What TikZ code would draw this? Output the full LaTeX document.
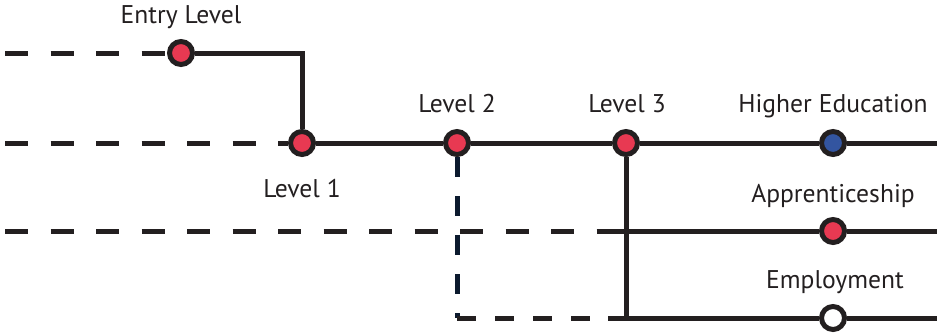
\documentclass[tikz,border=0pt]{standalone}
\usepackage{fontspec}
\setmainfont{PT Sans}
\usepackage{tikz}
\usepackage{xcolor}
\usetikzlibrary{positioning}
\definecolor{lineblack}{RGB}{35, 31, 32}
\definecolor{stopred}{RGB}{232, 57, 82}
\definecolor{stopblue}{RGB}{51, 85, 160}
\definecolor{linenavy}{RGB}{12, 26, 46}
\tikzset{
    routeline/.style={line width=2.5pt, draw=lineblack},
    routedash/.style={routeline, dash pattern=on 11.5pt off 11.25pt},
    crossdash/.style={line width=2.5pt, draw=linenavy, dash pattern=on 10pt off 9.5pt},
    stopnode/.style={circle, draw=lineblack, line width=2.5pt, minimum size=11.5pt, inner sep=0pt},
    redstop/.style={stopnode, fill=stopred},
    bluestop/.style={stopnode, fill=stopblue},
    whitestop/.style={stopnode, fill=white},
    stoplabel/.style={anchor=base, text=lineblack, font=\fontsize{12.8}{15}\selectfont}
}

\begin{document}
\begin{tikzpicture}[x=0.5pt, y=-0.5pt]
    \useasboundingbox (0,0) rectangle (937,332);

    % stops
    \node[redstop]   (entry)  at (181,53)  {};
    \node[redstop]   (lone)   at (302,143) {};
    \node[redstop]   (ltwo)   at (457,143) {};
    \node[redstop]   (lthree) at (626,143) {};
    \node[bluestop]  (higher) at (833,143) {};
    \node[redstop]   (appr)   at (833,231) {};
    \node[whitestop] (employ) at (833,318) {};

    % free ends
    \coordinate (entryleft) at (5,53);
    \coordinate (mainleft)  at (5,143);
    \coordinate (mainright) at (937,143);
    \coordinate (apprleft)  at (5,231);
    \coordinate (apprjoin)  at (605,231);
    \coordinate (apprright) at (937,231);
    \coordinate (emcorner)  at (457,318);
    \coordinate (emjoin)    at (608,318);
    \coordinate (emright)   at (937,318);

    % routes
    \draw[routedash] (entryleft) -- (entry);
    \draw[routeline] (entry) -| (lone);
    \draw[routedash] (mainleft) -- (lone);
    \draw[routeline] (lone) -- (ltwo) -- (lthree) -- (higher) -- (mainright);
    \draw[routedash] (apprleft) -- (apprjoin);
    \draw[routeline] (apprjoin) -- (appr) -- (apprright);
    \draw[crossdash] (ltwo) -- (emcorner);
    \draw[routedash, dash pattern=on 9.5pt off 9.5pt] (emcorner) -- (emjoin);
    \draw[routeline] (emjoin) -- (employ) -- (emright);
    \draw[routeline] (lthree) -- (lthree |- employ);

    % labels
    \node[stoplabel] (entrylbl)  at (181,24)  {Entry Level};
    \node[stoplabel] (lonelbl)   at (302,197) {Level 1};
    \node[stoplabel] (ltwolbl)   at (457,112) {Level 2};
    \node[stoplabel] (lthreelbl) at (627,112) {Level 3};
    \node[stoplabel] (higherlbl) at (833,112) {Higher Education};
    \node[stoplabel] (apprlbl)   at (833,202) {Apprenticeship};
    \node[stoplabel] (employlbl) at (835,288) {Employment};
\end{tikzpicture}
\end{document}
